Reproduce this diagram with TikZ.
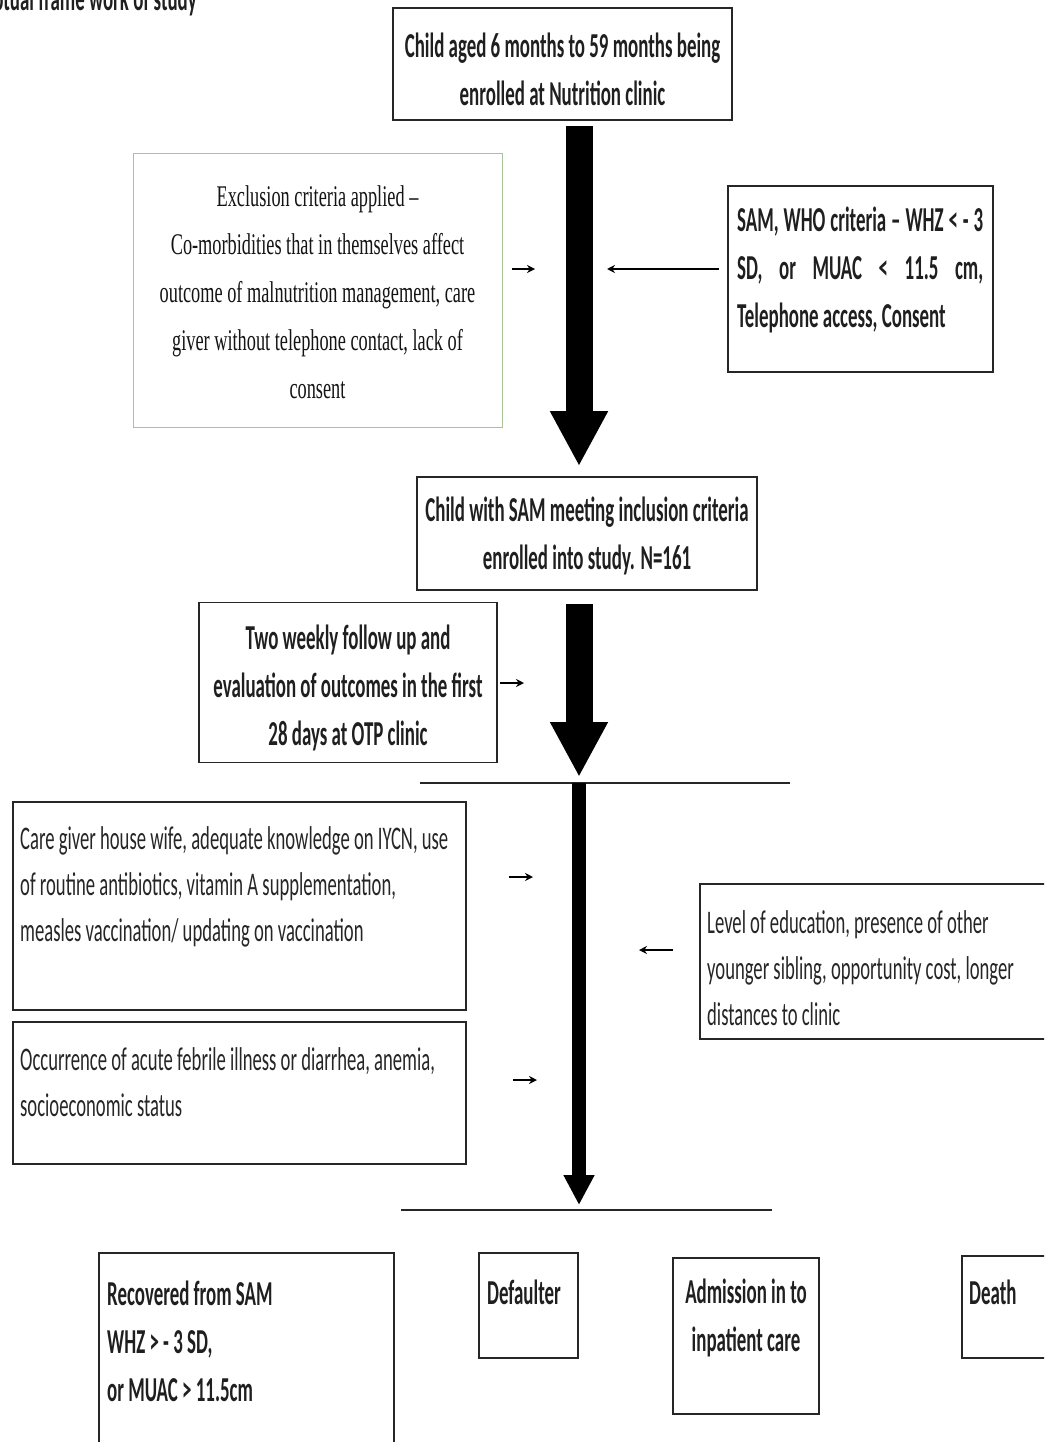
\documentclass[tikz,border=0pt]{standalone}
\usepackage{fontspec}
\setmainfont{Carlito}
\newfontfamily\calf[FakeStretch=0.54]{Carlito}
\newfontfamily\calr[FakeStretch=0.565]{Carlito}
\newfontfamily\serf[FakeStretch=0.61]{Liberation Serif}
\usetikzlibrary{arrows.meta}
\begin{document}
\begin{tikzpicture}[x=1pt,y=-1pt,
  box/.style={draw=black!85, line width=1.6pt, inner sep=0pt},
  gbox/.style={draw={rgb,255:red,168;green,196;blue,148}, line width=1pt, inner sep=0pt},
  btxt/.style={font=\calf\bfseries\fontsize{35}{48}\selectfont, inner sep=0pt, text=black!88},
  rtxt/.style={font=\calr\fontsize{33}{46}\selectfont, inner sep=0pt, text=black!85},
  stxt/.style={font=\serf\fontsize{30}{48}\selectfont, inner sep=0pt, text=black!92},
  bigarrow/.style={line width=27pt, -{Triangle[width=54pt,length=55pt]}},
  thinarrow/.style={line width=14pt, -{Triangle[width=29pt,length=30pt]}},
  smallarrow/.style={line width=1.4pt, -{Stealth[length=8pt,width=8pt]}},
  hline/.style={line width=1.6pt, draw=black!85}
]
\useasboundingbox (0,0) rectangle (1044,1442);
\clip (0,0) rectangle (1044,1442);
\fill[white] (0,0) rectangle (1044,1442);

% title (cut off at top edge, as in the reference)
\node[btxt, anchor=base east] (title) at (197,11) {Conceptual frame work of study};

% boxes
\node[box, minimum width=339pt, minimum height=112pt] (top) at (562.5,64) {};
\node[btxt, align=center] (toptxt) at (562.5,69) {Child aged 6 months to 59 months being\\enrolled at Nutrition clinic};

\node[gbox, minimum width=369pt, minimum height=273pt] (excl) at (317.5,290.5) {};
\node[stxt, align=center] (excltxt) at (317.5,292) {Exclusion criteria applied –\\Co-morbidities that in themselves affect\\outcome of malnutrition management, care\\giver without telephone contact, lack of\\consent};

\node[box, minimum width=265pt, minimum height=186pt] (sam) at (860.5,279) {};
\node[btxt, anchor=west, align=left] (samtxt) at (737,270) {\makebox[246pt][s]{SAM, WHO criteria – WHZ < - 3}\\\makebox[246pt][s]{SD, or MUAC < 11.5 cm,}\\Telephone access, Consent};

\node[box, minimum width=340pt, minimum height=113pt] (box2) at (587,533.5) {};
\node[btxt, align=center] (box2txt) at (587,536) {Child with SAM meeting inclusion criteria\\enrolled into study. N=161};

\node[box, minimum width=298pt, minimum height=160pt] (tw) at (348,682.5) {};
\node[btxt, align=center] (twtxt) at (348,688) {Two weekly follow up and\\evaluation of outcomes in the first\\28 days at OTP clinic};

\node[box, minimum width=453pt, minimum height=208pt] (care) at (239.5,906) {};
\node[rtxt, anchor=west, align=left] (caretxt) at (20,887) {Care giver house wife, adequate knowledge on IYCN, use\\of routine antibiotics, vitamin A supplementation,\\measles vaccination/ updating on vaccination};

\node[box, minimum width=453pt, minimum height=142pt] (occ) at (239.5,1093) {};
\node[rtxt, anchor=west, align=left] (occtxt) at (20,1082) {Occurrence of acute febrile illness or diarrhea, anemia,\\socioeconomic status};

\node[box, minimum width=360pt, minimum height=155pt] (lev) at (880,961.5) {};
\node[rtxt, anchor=west, align=left] (levtxt) at (707,968) {Level of education, presence of other\\younger sibling, opportunity cost, longer\\distances to clinic};

\node[box, minimum width=295pt, minimum height=207pt] (rec) at (246.5,1356.5) {};
\node[btxt, anchor=west, align=left] (rectxt) at (107,1341) {Recovered from SAM\\WHZ > - 3 SD,\\or MUAC > 11.5cm};

\node[box, minimum width=99pt, minimum height=105pt] (def) at (528.5,1305.5) {};
\node[btxt, anchor=west] (deftxt) at (487,1292) {Defaulter};

\node[box, minimum width=146pt, minimum height=156pt] (adm) at (746,1336) {};
\node[btxt, align=center] (admtxt) at (746,1318) {Admission in to\\inpatient care};

\node[box, minimum width=98pt, minimum height=102pt] (death) at (1011,1307) {};
\node[btxt, anchor=west] (deathtxt) at (969,1292) {Death};

% horizontal lines
\coordinate (l1a) at (420,783);
\coordinate (l1b) at (790,783);
\coordinate (l2a) at (401,1210);
\coordinate (l2b) at (772,1210);
\draw[hline] (l1a) -- (l1b);
\draw[hline] (l2a) -- (l2b);

% main arrows
\coordinate (ax) at (579,0);
\draw[bigarrow, shorten <=5pt, shorten >=10pt] (top.south -| ax) -- (box2.north -| ax);
\draw[bigarrow, shorten <=13pt, shorten >=6pt] (box2.south -| ax) -- (l1a -| ax);
\draw[thinarrow, shorten >=5pt] (l1a -| ax) -- (l2a -| ax);

% small arrows
\coordinate (s1a) at (512,269); \coordinate (s1b) at (535,269);
\draw[smallarrow] (s1a) -- (s1b);
\coordinate (s2b) at (607,269);
\draw[smallarrow, shorten <=8pt] (sam.west |- s2b) -- (s2b);
\coordinate (s3a) at (500,683); \coordinate (s3b) at (524,683);
\draw[smallarrow] (s3a) -- (s3b);
\coordinate (s4a) at (509,877); \coordinate (s4b) at (533,877);
\draw[smallarrow] (s4a) -- (s4b);
\coordinate (s5a) at (513,1080); \coordinate (s5b) at (537,1080);
\draw[smallarrow] (s5a) -- (s5b);
\coordinate (s6a) at (673,950); \coordinate (s6b) at (639,950);
\draw[smallarrow] (s6a) -- (s6b);
\end{tikzpicture}
\end{document}
